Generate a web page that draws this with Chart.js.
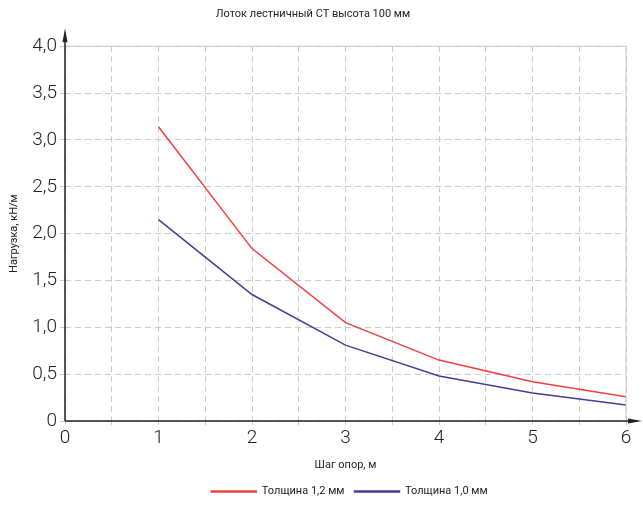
<!DOCTYPE html>
<html>
<head>
<meta charset="utf-8">
<script src="https://cdn.jsdelivr.net/npm/chart.js@4/dist/chart.umd.min.js"></script>
<style>
  html, body { margin: 0; padding: 0; background: #fff; }
  #wrap { width: 643px; height: 508px; }
</style>
</head>
<body>
<div id="wrap"><canvas id="loadChart" width="643" height="508"></canvas></div>
<script>
// Chart data
const spans = [1, 2, 3, 4, 5, 6];
const load12 = [3.14, 1.84, 1.05, 0.65, 0.42, 0.26];
const load10 = [2.15, 1.35, 0.81, 0.48, 0.30, 0.17];
const seriesNames = ['Толщина 1,2 мм', 'Толщина 1,0 мм'];

const FONT = 'Roboto, "Liberation Sans", sans-serif';
const GRID = '#cccccc';
const AXIS = '#222222';

function toPoints(ys) {
    return spans.map((x, i) => ({ x: x, y: ys[i] }));
}

// center the legend under the plot area instead of the whole canvas
const legendShift = {
    id: 'legendShift',
    afterLayout(chart) {
        const lg = chart.legend;
        const mid = (chart.chartArea.left + chart.chartArea.right) / 2 + 4;
        lg.left = 2 * mid - lg.right;
    }
};

// draws axis lines with arrows and solid top/right border lines
const axisArrows = {
    id: 'axisArrows',
    afterDraw(chart) {
        const c = chart.ctx;
        const xs = chart.scales.x;
        const ys = chart.scales.y;
        const x0 = xs.getPixelForValue(0);
        const x6 = xs.getPixelForValue(6);
        const y0 = ys.getPixelForValue(0);
        const y4 = ys.getPixelForValue(4);
        c.save();
        // solid outer grid lines
        c.strokeStyle = GRID;
        c.lineWidth = 1;
        c.beginPath();
        c.moveTo(x0, y4); c.lineTo(x6, y4);
        c.moveTo(x6, y4); c.lineTo(x6, y0);
        c.stroke();
        // axes
        c.strokeStyle = AXIS;
        c.fillStyle = AXIS;
        c.lineWidth = 1.5;
        c.beginPath();
        c.moveTo(x0, y0); c.lineTo(x0, y4 - 8);
        c.moveTo(x0, y0); c.lineTo(x6 + 5, y0);
        c.stroke();
        // y arrow
        c.beginPath();
        c.moveTo(x0, y4 - 18);
        c.lineTo(x0 - 2.5, y4 - 4);
        c.lineTo(x0 + 2.5, y4 - 4);
        c.closePath();
        c.fill();
        // x arrow
        c.beginPath();
        c.moveTo(x6 + 16, y0);
        c.lineTo(x6 + 2, y0 - 2.5);
        c.lineTo(x6 + 2, y0 + 2.5);
        c.closePath();
        c.fill();
        c.restore();
    }
};

const ctx = document.getElementById('loadChart').getContext('2d');

new Chart(ctx, {
    type: 'line',
    data: {
        datasets: [{
            label: seriesNames[0],
            data: toPoints(load12),
            borderColor: '#ee4040',
            backgroundColor: '#ee4040',
            borderWidth: 1.5,
            pointRadius: 0,
            tension: 0
        }, {
            label: seriesNames[1],
            data: toPoints(load10),
            borderColor: '#463c98',
            backgroundColor: '#463c98',
            borderWidth: 1.5,
            pointRadius: 0,
            tension: 0
        }]
    },
    options: {
        responsive: false,
        animation: false,
        layout: {
            padding: { left: 0, right: 17, top: 0, bottom: 1 }
        },
        plugins: {
            title: {
                display: true,
                text: 'Лоток лестничный СТ высота 100 мм',
                color: '#222',
                font: { family: FONT, size: 11, weight: 'normal' },
                padding: { top: 8, bottom: 25 }
            },
            legend: {
                position: 'bottom',
                labels: {
                    color: '#222',
                    font: { family: FONT, size: 11 },
                    boxWidth: 45,
                    boxHeight: 1,
                    padding: 10
                }
            },
            tooltip: { enabled: false }
        },
        scales: {
            x: {
                type: 'linear',
                min: 0,
                max: 6,
                afterFit: function (scale) { scale.height = 55; },
                ticks: {
                    stepSize: 0.5,
                    color: '#222',
                    padding: 2,
                    font: { family: FONT, size: 19, weight: 300 },
                    callback: function (value) {
                        return Number.isInteger(value) ? String(value) : '';
                    }
                },
                grid: {
                    color: GRID,
                    tickLength: 4
                },
                border: { display: false, dash: [6, 4] },
                title: {
                    display: true,
                    text: 'Шаг опор, м',
                    color: '#222',
                    font: { family: FONT, size: 11 },
                    padding: { top: 4, bottom: 4 }
                }
            },
            y: {
                min: 0,
                max: 4,
                afterFit: function (scale) { scale.width = 65; },
                ticks: {
                    stepSize: 0.5,
                    color: '#222',
                    padding: 3,
                    font: { family: FONT, size: 19, weight: 300 },
                    callback: function (value) {
                        return value === 0 ? '0' : value.toFixed(1).replace('.', ',');
                    }
                },
                grid: {
                    color: GRID,
                    tickLength: 5
                },
                border: { display: false, dash: [6, 4] },
                title: {
                    display: true,
                    text: 'Нагрузка, кН/м',
                    color: '#222',
                    font: { family: FONT, size: 11 },
                    padding: { top: 8, bottom: 4 }
                }
            }
        }
    },
    plugins: [legendShift, axisArrows]
});
</script>
</body>
</html>
